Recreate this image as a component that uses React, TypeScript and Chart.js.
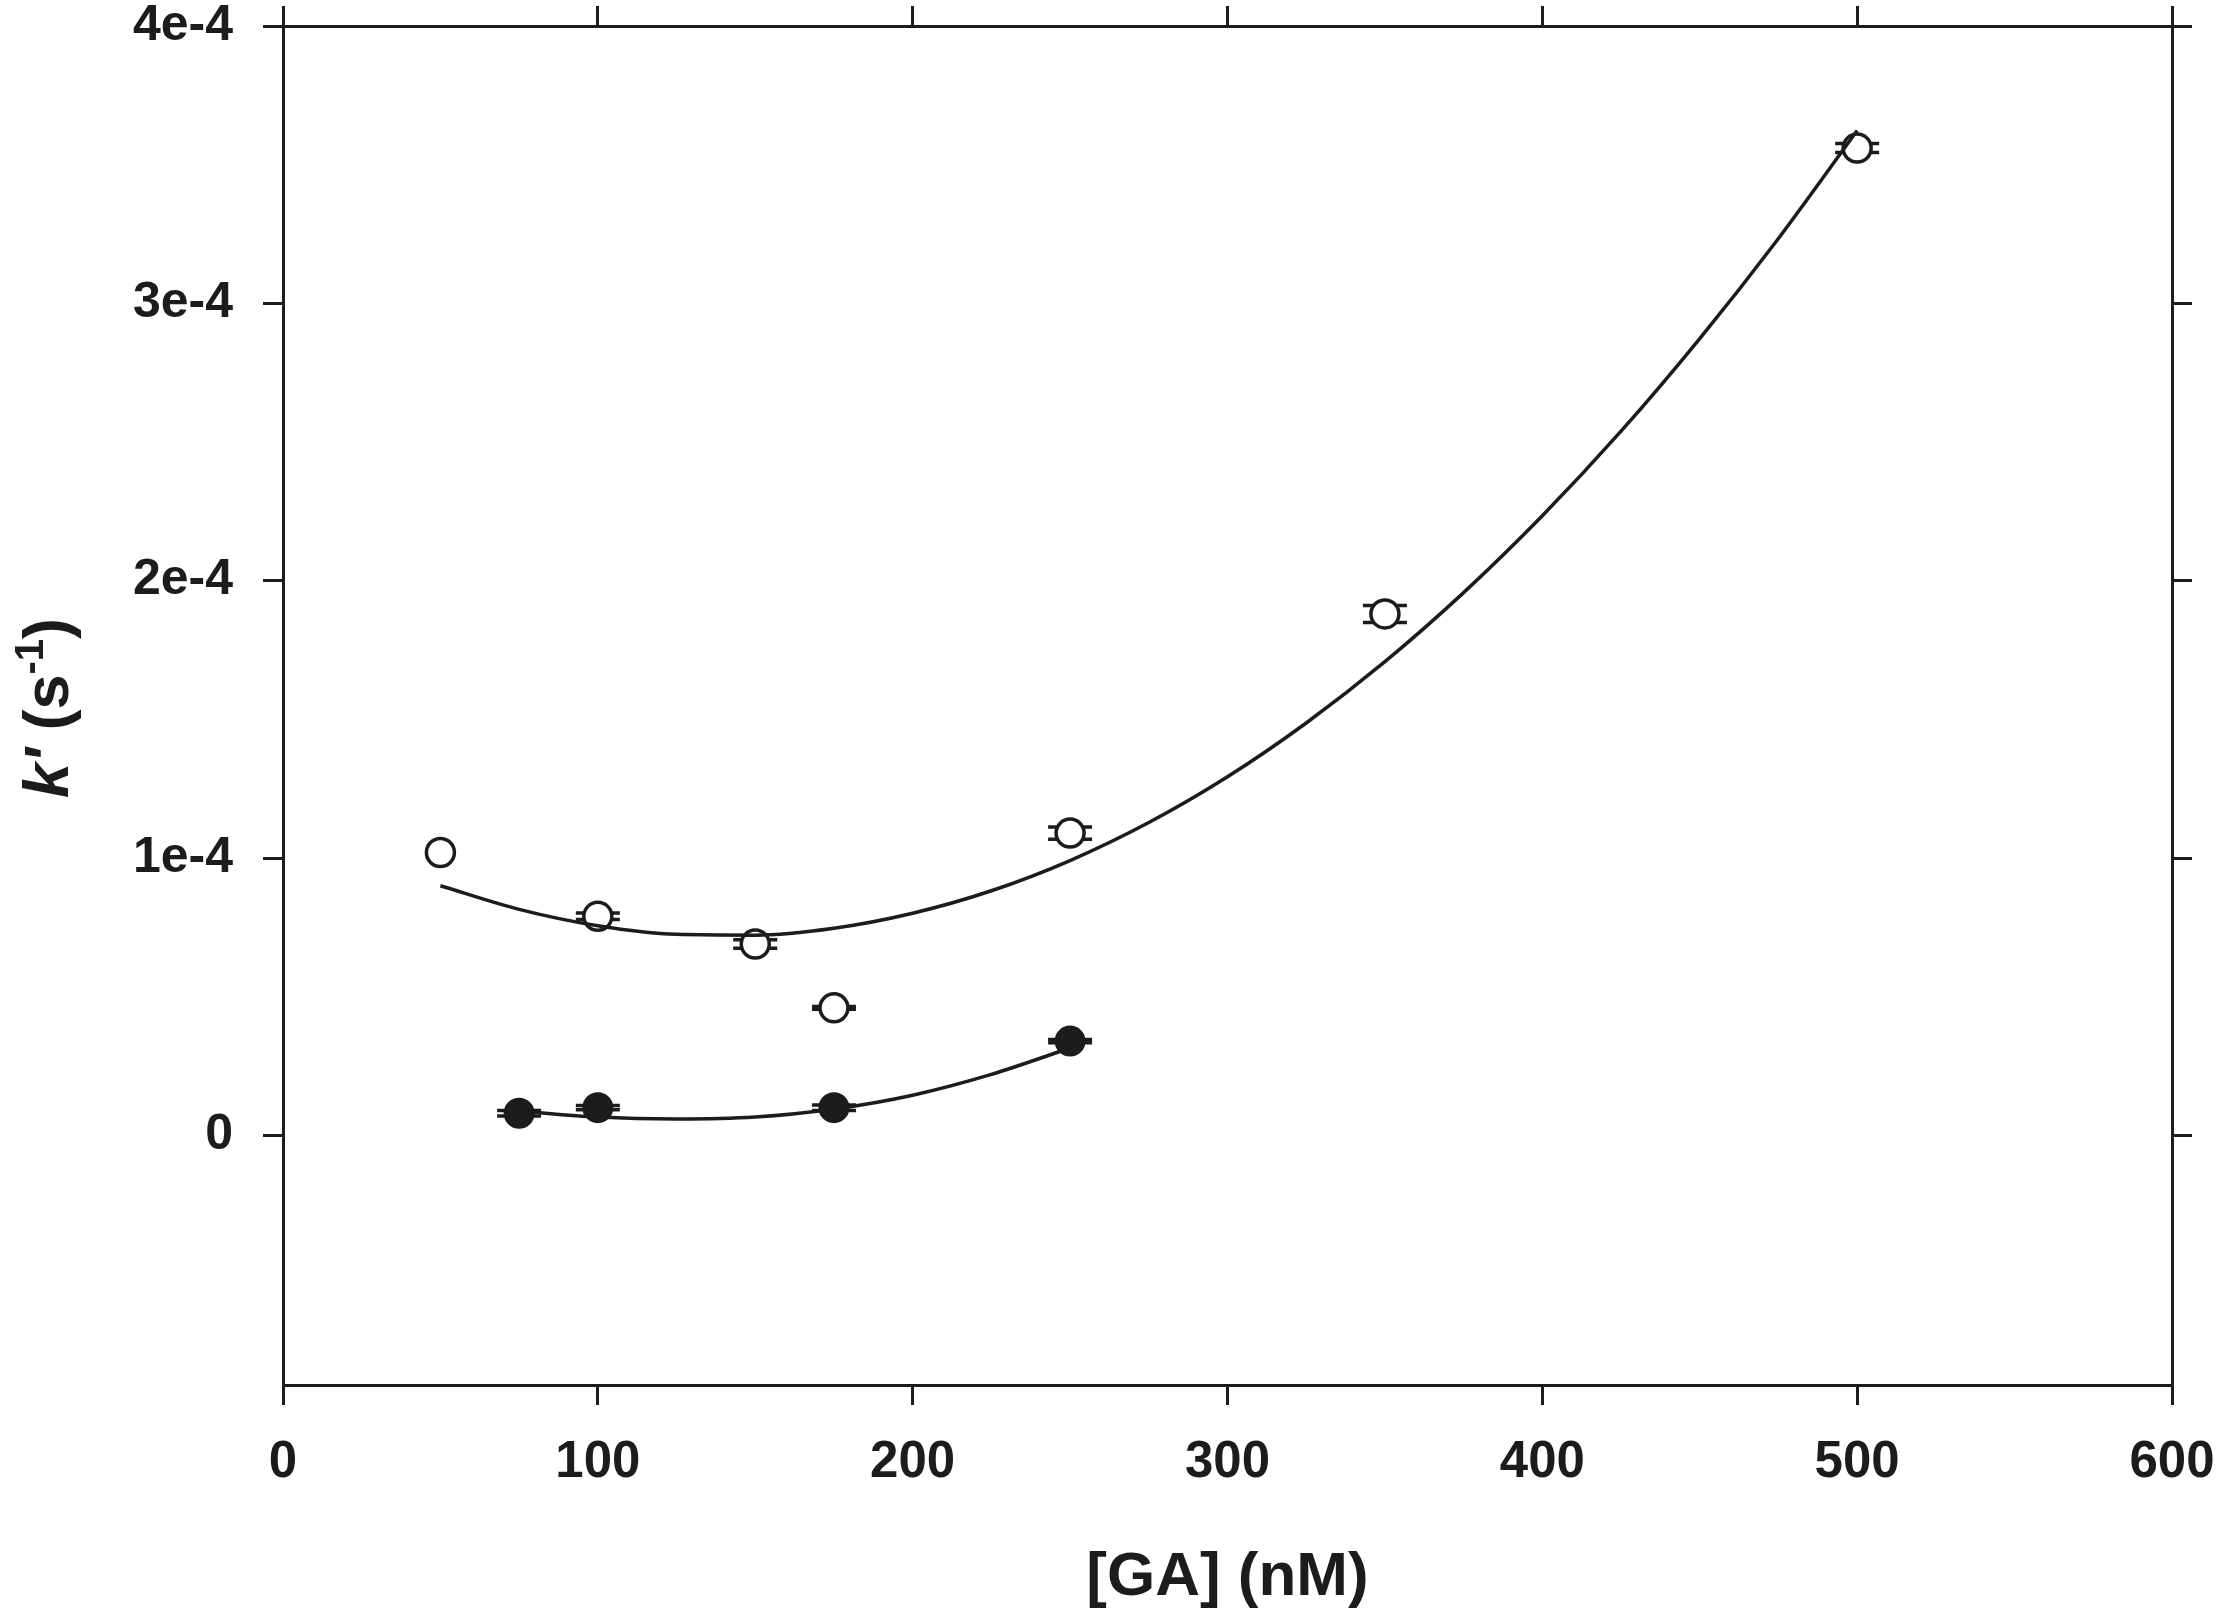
import { useEffect, useRef } from 'react';
import Chart from 'chart.js/auto';

// [GA] (nM) vs k' (s^-1)
const X_TICKS = [0, 100, 200, 300, 400, 500, 600];
const Y_TICKS = [0, 1e-4, 2e-4, 3e-4, 4e-4];
const Y_TICK_LABELS = ['0', '1e-4', '2e-4', '3e-4', '4e-4'];

// open circles
const OPEN_GA = [50, 100, 150, 175, 250, 350, 500];
const OPEN_K = [1.02e-4, 0.79e-4, 0.69e-4, 0.46e-4, 1.09e-4, 1.88e-4, 3.56e-4];
const OPEN_ERR = [0, 0.012e-4, 0.015e-4, 0.005e-4, 0.022e-4, 0.031e-4, 0.016e-4];

// filled circles
const FILLED_GA = [75, 100, 175, 250];
const FILLED_K = [0.08e-4, 0.1e-4, 0.1e-4, 0.34e-4];
const FILLED_ERR = [0.01e-4, 0.008e-4, 0.01e-4, 0.006e-4];

// fitted curves
const OPEN_FIT_GA = [50, 75, 100, 125, 150, 175, 200, 225, 250, 275, 300, 325, 350, 375, 400, 425, 450, 475, 500];
const OPEN_FIT_K = [
  0.9e-4, 0.815e-4, 0.756e-4, 0.725e-4, 0.722e-4, 0.747e-4, 0.801e-4, 0.882e-4, 0.991e-4, 1.128e-4,
  1.293e-4, 1.487e-4, 1.708e-4, 1.957e-4, 2.234e-4, 2.539e-4, 2.873e-4, 3.234e-4, 3.623e-4,
];
const FILLED_FIT_GA = [75, 100, 125, 150, 175, 200, 225, 250];
const FILLED_FIT_K = [0.088e-4, 0.066e-4, 0.059e-4, 0.066e-4, 0.095e-4, 0.145e-4, 0.22e-4, 0.315e-4];

const INK = '#1c1c1c';
const FONT = '"Liberation Sans", Arial, sans-serif';

const pts = (xs: number[], ys: number[]) => xs.map((x, i) => ({ x, y: ys[i] }));

const errorBars = {
  id: 'errorBars',
  beforeDatasetsDraw(chart: any) {
    const { ctx } = chart;
    const yScale = chart.scales.y;
    ctx.save();
    ctx.strokeStyle = INK;
    ctx.lineWidth = 3.5;
    chart.data.datasets.forEach((ds: any, di: number) => {
      if (!ds.errors) return;
      const meta = chart.getDatasetMeta(di);
      meta.data.forEach((el: any, i: number) => {
        const err = ds.errors[i];
        if (!err) return;
        const v = ds.data[i].y;
        const top = yScale.getPixelForValue(v + err);
        const bot = yScale.getPixelForValue(v - err);
        ctx.beginPath();
        ctx.moveTo(el.x, top);
        ctx.lineTo(el.x, bot);
        ctx.moveTo(el.x - 22, top);
        ctx.lineTo(el.x + 22, top);
        ctx.moveTo(el.x - 22, bot);
        ctx.lineTo(el.x + 22, bot);
        ctx.stroke();
      });
    });
    ctx.restore();
  },
};

const axisTitles = {
  id: 'axisTitles',
  afterDraw(chart: any) {
    const { ctx, chartArea } = chart;
    ctx.save();
    ctx.fillStyle = INK;
    ctx.textBaseline = 'middle';
    ctx.textAlign = 'center';
    ctx.font = `bold 62px ${FONT}`;
    ctx.fillText('[GA] (nM)', (chartArea.left + chartArea.right) / 2, 1578);

    // k' (s-1), rotated
    const parts = [
      { t: "k'", f: `italic bold 63px ${FONT}`, dy: 0 },
      { t: ' (s', f: `bold 63px ${FONT}`, dy: 0 },
      { t: '-1', f: `bold 40px ${FONT}`, dy: -25 },
      { t: ')', f: `bold 63px ${FONT}`, dy: 0 },
    ];
    ctx.textAlign = 'left';
    ctx.textBaseline = 'alphabetic';
    let total = 0;
    parts.forEach((p) => {
      ctx.font = p.f;
      total += ctx.measureText(p.t).width;
    });
    ctx.translate(68, 708);
    ctx.rotate(-Math.PI / 2);
    let u = -total / 2;
    parts.forEach((p) => {
      ctx.font = p.f;
      ctx.fillText(p.t, u, p.dy);
      u += ctx.measureText(p.t).width;
    });
    ctx.restore();
  },
};

const noOverflow = (s: any) => {
  s.paddingLeft = 0;
  s.paddingRight = 0;
  s.paddingTop = 0;
  s.paddingBottom = 0;
};

const frame = (position: string) => ({
  grid: {
    display: true,
    drawOnChartArea: false,
    drawTicks: true,
    tickLength: 20,
    lineWidth: 3,
    color: INK,
  },
  border: { display: true, width: 3, color: INK },
  position,
});

export const KineticsChart = () => {
  const chartRef = useRef<HTMLCanvasElement>(null);

  useEffect(() => {
    if (!chartRef.current) return;
    const ctx = chartRef.current.getContext('2d');
    if (!ctx) return;

    const chart = new Chart(ctx, {
      type: 'scatter',
      data: {
        datasets: [
          {
            type: 'line',
            data: pts(OPEN_FIT_GA, OPEN_FIT_K),
            borderColor: INK,
            borderWidth: 3.5,
            pointRadius: 0,
            cubicInterpolationMode: 'monotone',
            order: 0,
          },
          {
            type: 'line',
            data: pts(FILLED_FIT_GA, FILLED_FIT_K),
            borderColor: INK,
            borderWidth: 3.5,
            pointRadius: 0,
            cubicInterpolationMode: 'monotone',
            order: 0,
          },
          {
            data: pts(OPEN_GA, OPEN_K),
            errors: OPEN_ERR,
            pointStyle: 'circle',
            pointRadius: 14,
            pointBorderWidth: 3.5,
            pointBackgroundColor: '#ffffff',
            pointBorderColor: INK,
            order: 1,
          },
          {
            data: pts(FILLED_GA, FILLED_K),
            errors: FILLED_ERR,
            pointStyle: 'circle',
            pointRadius: 14.5,
            pointBorderWidth: 2,
            pointBackgroundColor: INK,
            pointBorderColor: INK,
            order: 1,
          },
        ] as any,
      },
      options: {
        animation: false,
        responsive: true,
        maintainAspectRatio: false,
        layout: { padding: { left: 0, top: 26, right: 45, bottom: 0 } },
        plugins: {
          legend: { display: false },
          tooltip: { enabled: false },
        },
        scales: {
          x: {
            type: 'linear',
            ...frame('bottom'),
            min: 0,
            max: 600,
            afterBuildTicks: (s: any) => {
              s.ticks = X_TICKS.map((value) => ({ value }));
            },
            afterFit: (s: any) => {
              s.height = 239;
              noOverflow(s);
            },
            ticks: {
              color: INK,
              padding: 27,
              font: { family: FONT, size: 51, weight: 'bold' },
              callback: (v: any) => String(v),
            },
          },
          x2: {
            type: 'linear',
            ...frame('top'),
            min: 0,
            max: 600,
            afterBuildTicks: (s: any) => {
              s.ticks = X_TICKS.map((value) => ({ value }));
            },
            afterFit: (s: any) => {
              s.height = 0;
              noOverflow(s);
            },
            ticks: { display: false },
          },
          y: {
            type: 'linear',
            ...frame('left'),
            min: -0.9e-4,
            max: 4e-4,
            afterBuildTicks: (s: any) => {
              s.ticks = Y_TICKS.map((value) => ({ value }));
            },
            afterFit: (s: any) => {
              s.width = 283;
              noOverflow(s);
            },
            ticks: {
              color: INK,
              padding: 30,
              font: { family: FONT, size: 50, weight: 'bold' },
              callback: (v: any) => Y_TICK_LABELS[Y_TICKS.indexOf(v)] ?? '',
            },
          },
          y2: {
            type: 'linear',
            ...frame('right'),
            min: -0.9e-4,
            max: 4e-4,
            afterBuildTicks: (s: any) => {
              s.ticks = Y_TICKS.map((value) => ({ value }));
            },
            afterFit: (s: any) => {
              s.width = 0;
              noOverflow(s);
            },
            ticks: { display: false },
          },
        } as any,
      },
      plugins: [errorBars, axisTitles],
    });

    return () => {
      chart.destroy();
    };
  }, []);

  return <canvas ref={chartRef} />;
};

export default function App() {
  useEffect(() => {
    document.body.style.margin = '0';
  }, []);
  return (
    <div style={{ width: 2217, height: 1624, position: 'relative', background: '#ffffff' }}>
      <KineticsChart />
    </div>
  );
}
